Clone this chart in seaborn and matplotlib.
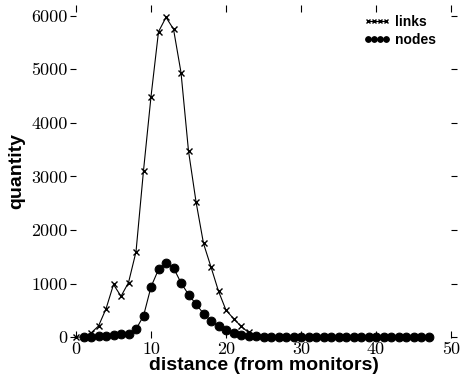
import matplotlib
matplotlib.use("Agg")
import matplotlib.pyplot as plt
import seaborn as sns

# distance from monitors (hops)
links_dist = list(range(0, 48))
links_count = [0, 10, 80, 210, 530, 985, 765, 1020, 1595, 3110,
               4490, 5700, 5970, 5750, 4940, 3475, 2530, 1750, 1310, 860,
               505, 350, 205, 90, 30, 10, 5, 2, 1, 0,
               0, 0, 0, 0, 0, 0, 0, 0, 0, 0,
               0, 0, 0, 0, 0, 0, 0, 0]

nodes_dist = list(range(1, 48))
nodes_count = [5, 10, 15, 27, 37, 56, 69, 150, 398,
               940, 1265, 1377, 1296, 1015, 798, 617, 443, 305, 206,
               144, 80, 50, 30, 20, 12, 8, 5, 4, 3,
               2, 1, 1, 1, 1, 1, 0, 0, 0, 0,
               0, 0, 0, 0, 0, 0, 0, 0]

x_ticks = [0, 10, 20, 30, 40, 50]
y_ticks = [0, 1000, 2000, 3000, 4000, 5000, 6000]

sns.set_style("white")
plt.rcParams["text.color"] = "black"
plt.rcParams["axes.labelcolor"] = "black"
plt.rcParams["xtick.color"] = "black"
plt.rcParams["ytick.color"] = "black"

fig = plt.figure(figsize=(4.64, 3.83), dpi=100)
ax = fig.add_axes([0.1638, 0.118, 0.8082, 0.869])

sns.lineplot(x=links_dist, y=links_count, ax=ax, color="black", lw=0.8,
             marker="x", markersize=4.2, markeredgewidth=1.0,
             markeredgecolor="black", label="links", clip_on=False)
sns.lineplot(x=nodes_dist, y=nodes_count, ax=ax, color="black", lw=0.8,
             marker="o", markersize=6.3, markeredgecolor="black",
             label="nodes", clip_on=False)

ax.set_xlim(0, 50)
ax.set_ylim(-10, 6200)
ax.set_xticks(x_ticks)
ax.set_yticks(y_ticks)
ax.set_xticklabels([str(t) for t in x_ticks])
ax.set_yticklabels([str(t) for t in y_ticks])

for sp in ax.spines.values():
    sp.set_visible(False)

ax.tick_params(axis="x", direction="in", length=5, width=0.8, top=True,
               bottom=True, labelsize=13, pad=3)
ax.tick_params(axis="y", direction="out", length=4, width=0.8, left=True,
               right=True, labelsize=13, pad=2)
for lab in ax.get_xticklabels() + ax.get_yticklabels():
    lab.set_fontfamily("cmr10")

ax.set_xlabel("distance (from monitors)", fontfamily="Liberation Sans",
              fontweight="bold", fontsize=14, labelpad=0)
ax.set_ylabel("quantity", fontfamily="Liberation Sans",
              fontweight="bold", fontsize=14, labelpad=4)

leg = ax.legend(loc="upper right", bbox_to_anchor=(0.985, 1.0), numpoints=4,
                frameon=False, handlelength=1.9, handletextpad=0.3,
                labelspacing=0.3, markerscale=0.65, borderaxespad=0.3,
                prop={"family": "Liberation Sans", "weight": "bold", "size": 10})

fig.savefig("out.png", dpi=100)
